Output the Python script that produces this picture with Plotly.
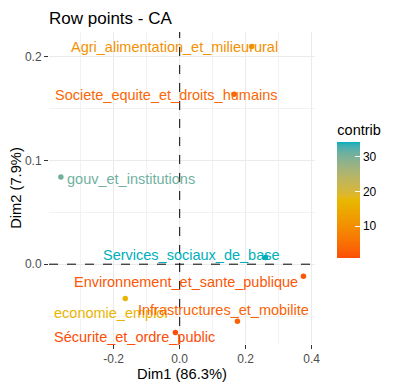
import plotly.graph_objects as go

rows = ["Agri_alimentation_et_milieurural", "Societe_equite_et_droits_humains",
        "gouv_et_institutions", "Services_sociaux_de_base",
        "Environnement_et_sante_publique", "economie_emploi",
        "Infrastructures_et_mobilite", "Sécurite_et_ordre_public"]
dim1 = [0.218, 0.165, -0.360, 0.260, 0.375, -0.165, 0.175, -0.013]
dim2 = [0.210, 0.164, 0.084, 0.0065, -0.0116, -0.033, -0.055, -0.066]
contrib = [10.5, 4.0, 30.8, 34.2, 2.0, 17.0, 3.5, 1.0]
# repelled label positions (data units)
label_x = [-0.016, -0.042, -0.148, 0.037, 0.019, -0.208, 0.134, -0.137]
label_y = [0.210, 0.163, 0.082, 0.0087, -0.0174, -0.047, -0.0445, -0.0706]

grad_cols = ["#FC4E07", "#E7B800", "#00AFBB"]


# ---- Lab interpolation (as ggplot does) ----
def hex2rgb(h):
    h = h.lstrip("#")
    return [int(h[i:i + 2], 16) / 255 for i in (0, 2, 4)]


def srgb2lin(c):
    return c / 12.92 if c <= 0.04045 else ((c + 0.055) / 1.055) ** 2.4


def lin2srgb(c):
    c = max(0.0, min(1.0, c))
    return 12.92 * c if c <= 0.0031308 else 1.055 * c ** (1 / 2.4) - 0.055


WX, WY, WZ = 0.95047, 1.0, 1.08883


def rgb2lab(rgb):
    r, g, b = [srgb2lin(c) for c in rgb]
    X = 0.4124 * r + 0.3576 * g + 0.1805 * b
    Y = 0.2126 * r + 0.7152 * g + 0.0722 * b
    Z = 0.0193 * r + 0.1192 * g + 0.9505 * b

    def f(t):
        return t ** (1 / 3) if t > 216 / 24389 else (24389 / 27 * t + 16) / 116
    fx, fy, fz = f(X / WX), f(Y / WY), f(Z / WZ)
    return [116 * fy - 16, 500 * (fx - fy), 200 * (fy - fz)]


def lab2rgb(lab):
    L, a, b = lab
    fy = (L + 16) / 116
    fx = fy + a / 500
    fz = fy - b / 200

    def finv(t):
        return t ** 3 if t ** 3 > 216 / 24389 else (116 * t - 16) / (24389 / 27)
    X, Y, Z = finv(fx) * WX, finv(fy) * WY, finv(fz) * WZ
    r = 3.2406 * X - 1.5372 * Y - 0.4986 * Z
    g = -0.9689 * X + 1.8758 * Y + 0.0415 * Z
    bb = 0.0557 * X - 0.2040 * Y + 1.0570 * Z
    return [round(lin2srgb(c) * 255) for c in (r, g, bb)]


labs = [rgb2lab(hex2rgb(h)) for h in grad_cols]


def color_at(t):
    t = max(0.0, min(1.0, t))
    seg = min(int(t * 2), 1)
    u = t * 2 - seg
    l0, l1 = labs[seg], labs[seg + 1]
    r, g, b = lab2rgb([l0[i] + (l1[i] - l0[i]) * u for i in range(3)])
    return f"rgb({r},{g},{b})"


n = 40
scale = [[i / n, color_at(i / n)] for i in range(n + 1)]
cmin, cmax = min(contrib), max(contrib)
cols = [color_at((c - cmin) / (cmax - cmin)) for c in contrib]

# page has an 8px body margin: figure is drawn at (8, 8)
W, H = 388, 383

fig = go.Figure()
fig.add_trace(go.Scatter(
    x=dim1, y=dim2, mode="markers",
    marker=dict(size=5.5, color=contrib, colorscale=scale, cmin=cmin, cmax=cmax,
                colorbar=dict(title=dict(text="contrib", side="top", font=dict(size=14.5, color="black")),
                              thickness=23, len=137, lenmode="pixels",
                              x=1.084, xanchor="left", y=0.2766, yanchor="bottom",
                              xpad=0, ypad=0, outlinewidth=0,
                              tickvals=[10, 20, 30], ticks="inside", ticklen=5,
                              tickcolor="white", tickfont=dict(size=12, color="black"))),
    showlegend=False, hoverinfo="text", text=rows))

for lx, ly, t, c in zip(label_x, label_y, rows, cols):
    fig.add_annotation(x=lx, y=ly, text=t, showarrow=False, xanchor="center", yanchor="middle",
                       font=dict(size=14.5, color=c, family="Arial"))

fig.add_shape(type="line", x0=0, x1=0, y0=0, y1=1, yref="paper", xref="x",
              line=dict(color="black", width=1, dash="dash"))
fig.add_shape(type="line", x0=0, x1=1, xref="paper", y0=0, y1=0, yref="y",
              line=dict(color="black", width=1, dash="dash"))

axis_common = dict(showgrid=True, gridcolor="#EBEBEB", gridwidth=1, zeroline=False,
                   ticks="outside", ticklen=4, tickcolor="#333333", automargin=False,
                   tickfont=dict(size=12, color="#4D4D4D"), showline=False,
                   minor=dict(showgrid=True, gridcolor="#F2F2F2", gridwidth=0.7))
fig.update_xaxes(range=[-0.396, 0.41], tickvals=[-0.2, 0.0, 0.2, 0.4],
                 ticktext=["-0.2", "0.0", "0.2", "0.4"],
                 minor_tickvals=[-0.3, -0.1, 0.1, 0.3],
                 title=dict(text="Dim1 (86.3%)", font=dict(size=14.7, color="black"), standoff=2),
                 **axis_common)
fig.update_yaxes(range=[-0.077, 0.224], tickvals=[0.0, 0.1, 0.2],
                 ticktext=["0.0", "0.1", "0.2"],
                 minor_tickvals=[-0.05, 0.05, 0.15],
                 title=dict(text="Dim2 (7.9%)", font=dict(size=14.7, color="black"), standoff=2),
                 **axis_common)

fig.update_layout(
    width=W, height=H,
    margin=dict(l=41, r=81, t=24, b=47),
    plot_bgcolor="white", paper_bgcolor="white",
    font=dict(family="Arial", color="black"),
    title=dict(text="Row points - CA", x=41 / W, xanchor="left", y=1 - 10 / H, yanchor="middle",
               font=dict(size=17, color="black")),
)
fig.write_html("out.html")
